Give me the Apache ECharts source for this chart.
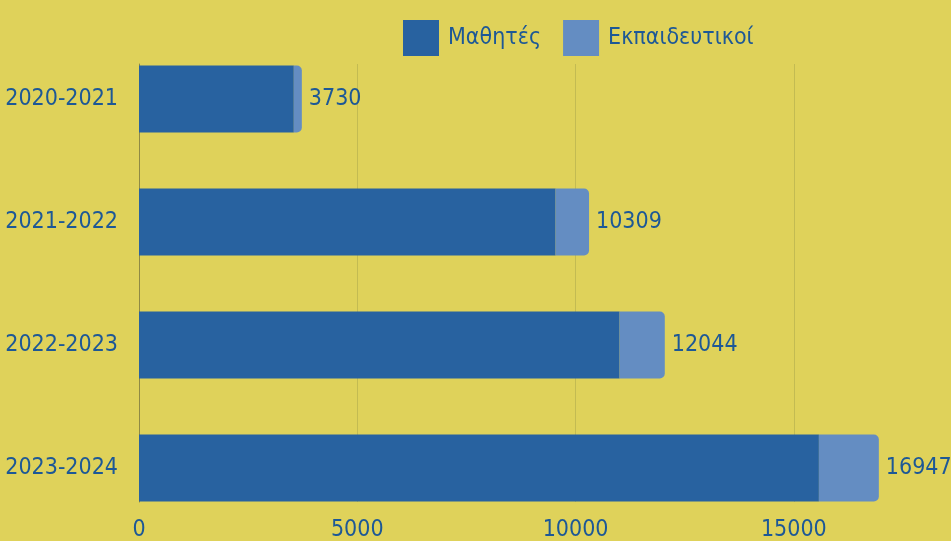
<!DOCTYPE html>
<html>
<head>
<meta charset="utf-8">
<script src="https://cdn.jsdelivr.net/npm/echarts@6/dist/echarts.min.js"></script>
<style>
  html, body { margin: 0; padding: 0; background: #dfd25a; }
  #chart { width: 951px; height: 541px; }
</style>
</head>
<body>
<div id="chart"></div>
<script>
  // school years, top to bottom
  var years = ['2020-2021', '2021-2022', '2022-2023', '2023-2024']
  var students = [3546, 9542, 11008, 15574]
  var teachers = [184, 767, 1036, 1373]
  var xTicks = [0, 5000, 10000, 15000]

  var font = '"Liberation Sans Narrow", "DejaVu Sans Condensed", sans-serif'
  var textColor = '#1d5896'
  var axisMax = 18600

  var chart = echarts.init(document.getElementById('chart'))

  var option = {
    backgroundColor: '#dfd25a',
    animation: false,
    legend: {
      left: 398,
      top: 15,
      icon: 'rect',
      itemWidth: 36,
      itemHeight: 36,
      itemGap: 22,
      textStyle: {
        fontFamily: font,
        fontSize: 23,
        color: textColor,
        padding: [0, 0, 0, 4]
      },
      data: ['Μαθητές', 'Εκπαιδευτικοί']
    },
    grid: [
      // bars
      { left: 139, right: 0, top: 37.5, bottom: 11.5, outerBoundsMode: 'none', containLabel: false },
      // gridlines + bottom tick labels
      { left: 139, right: 0, top: 64, bottom: 39, outerBoundsMode: 'none', containLabel: false }
    ],
    xAxis: [
      {
        gridIndex: 0,
        type: 'value',
        min: 0,
        max: axisMax,
        show: false
      },
      {
        gridIndex: 1,
        type: 'value',
        min: 0,
        max: axisMax,
        interval: 5000,
        axisLine: { show: false },
        axisTick: { show: false },
        splitLine: { lineStyle: { color: '#c3bb52', width: 1 } },
        axisLabel: {
          margin: 17,
          fontFamily: font,
          fontSize: 23,
          color: textColor,
          showMaxLabel: false,
          formatter: function (v) {
            return xTicks.indexOf(v) >= 0 ? String(v) : ''
          }
        }
      }
    ],
    yAxis: [
      {
        gridIndex: 0,
        type: 'category',
        inverse: true,
        data: years,
        axisLine: { show: false },
        axisTick: { show: false },
        axisLabel: {
          margin: 21,
          fontFamily: font,
          fontSize: 23,
          color: textColor,
          padding: [4, 0, 0, 0]
        }
      },
      {
        gridIndex: 1,
        type: 'category',
        data: years,
        axisLine: { show: true, lineStyle: { color: '#8f8a45', width: 1 } },
        axisTick: { show: false },
        axisLabel: { show: false }
      }
    ],
    series: [
      {
        name: 'Μαθητές',
        type: 'bar',
        stack: 'total',
        xAxisIndex: 0,
        yAxisIndex: 0,
        barWidth: 67,
        itemStyle: { color: '#2862a0' },
        data: students
      },
      {
        name: 'Εκπαιδευτικοί',
        type: 'bar',
        stack: 'total',
        xAxisIndex: 0,
        yAxisIndex: 0,
        barWidth: 67,
        itemStyle: { color: '#648dc2', borderRadius: [0, 5, 5, 0] },
        label: {
          show: true,
          position: 'right',
          distance: 7,
          fontFamily: font,
          fontSize: 23,
          color: textColor,
          padding: [4, 0, 0, 0],
          formatter: function (p) {
            return String(students[p.dataIndex] + teachers[p.dataIndex])
          }
        },
        data: teachers
      }
    ]
  }

  chart.setOption(option)
</script>
</body>
</html>
